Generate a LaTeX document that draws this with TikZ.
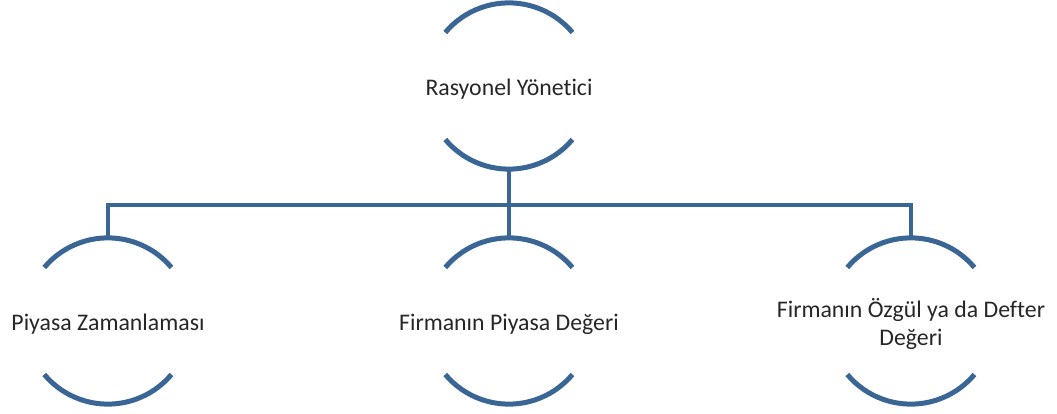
\documentclass[tikz,border=0pt]{standalone}
\usepackage{fontspec}
\setmainfont{Carlito}[Ligatures=NoCommon]
\definecolor{capblue}{RGB}{58,102,150}
\definecolor{captext}{RGB}{38,38,38}

\tikzset{
  lens/.style={circle, minimum size=166pt, inner sep=0pt},
  lenstext/.style={align=center, text=captext, yshift=-3pt, font=\fontsize{23.8}{28}\selectfont},
  capline/.style={draw=capblue, line width=5pt},
  link/.style={draw=capblue, line width=4.5pt},
}
% upper and lower caps of a lens node (radius 83)
\newcommand\lenscaps[1]{%
  \draw[capline] (#1.140) arc[start angle=220, end angle=320, radius=83];
  \draw[capline] (#1.220) arc[start angle=140, end angle=40, radius=83];
}

\begin{document}
\begin{tikzpicture}[x=1pt, y=-1pt]

  % nodes
  \node[lens, label={[lenstext]center:Rasyonel Yönetici}] (top) at (509,86) {};
  \node[lens, label={[lenstext]center:Piyasa Zamanlaması}] (left) at (108,321) {};
  \node[lens, label={[lenstext]center:Firmanın Piyasa Değeri}] (mid) at (509,321) {};
  \node[lens, label={[lenstext]center:Firmanın Özgül ya da Defter\\Değeri}] (right) at (911,321) {};

  \lenscaps{top}
  \lenscaps{left}
  \lenscaps{mid}
  \lenscaps{right}

  % connectors
  \coordinate (bus) at (509,205);
  \draw[link] (top.south) -- (bus);
  \draw[link] (bus) -- (mid.north);
  \draw[link] (left.north) |- (bus) -| (right.north);

  \pgfresetboundingbox
  \path[use as bounding box] (0,0) rectangle (1057,414);
\end{tikzpicture}
\end{document}
